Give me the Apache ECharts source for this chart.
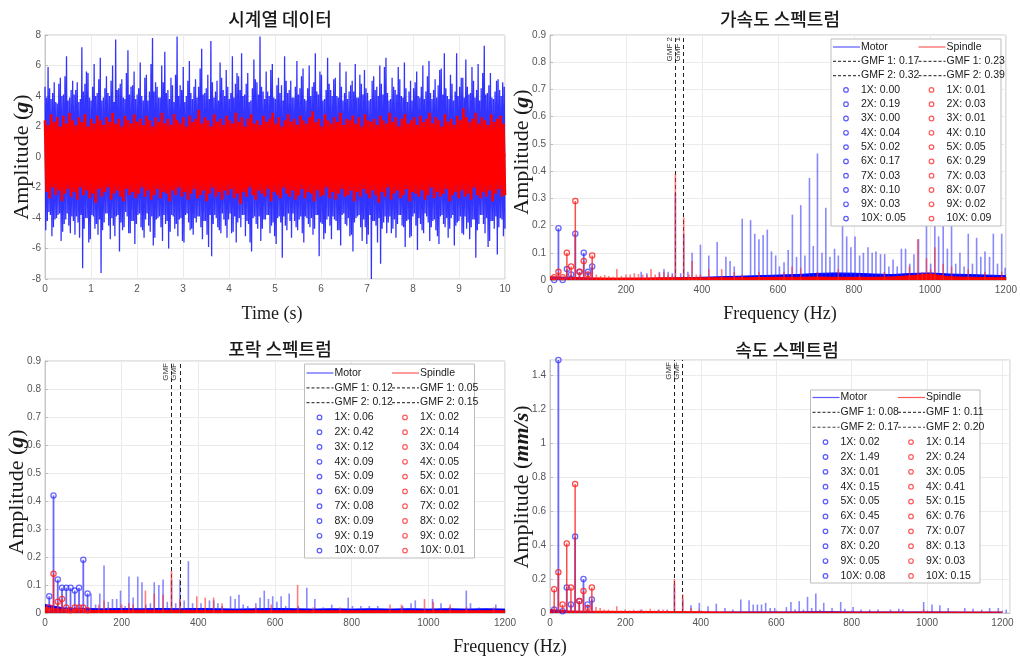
<!DOCTYPE html>
<html>
<head>
<meta charset="utf-8">
<script src="https://cdn.jsdelivr.net/npm/echarts/dist/echarts.min.js"></script>
<style>
  html, body { margin: 0; padding: 0; background: #ffffff; }
  #chart { width: 1020px; height: 661px; }
</style>
</head>
<body>
<div id="chart"></div>
<script>
// ---------------- time series (g) ----------------
// Each block of four samples is: motorHi[i], motorLo[i], motorHiB[i], motorLoB[i]
const TIME_END = 10;
const motorHi = [
  4.6, 5.9, 3.8, 4.9, 3.5, 5.2, 4.1, 6.6, 3.9, 5.0,
  4.4, 3.6, 7.2, 4.8, 5.5, 3.7, 6.1, 4.2, 6.5, 3.9,
  5.3, 4.0, 6.0, 7.7, 4.5, 5.1, 3.8, 7.0, 4.6, 5.6,
  4.1, 6.2, 3.7, 5.4, 4.3, 7.8, 4.9, 3.9, 6.0, 6.9,
  4.4, 5.2, 3.6, 7.9, 4.7, 5.9, 4.0, 6.3, 3.8, 5.1,
  4.6, 7.1, 4.2, 5.4, 7.6, 3.9, 5.0, 6.2, 4.4, 5.7,
  3.8, 6.6, 4.8, 5.3, 6.8, 4.1, 5.5, 3.7, 6.4, 4.9,
  7.9, 4.3, 5.6, 4.0, 6.1, 3.8, 5.2, 4.7, 6.6, 4.2,
  5.0, 3.9, 6.3, 4.5, 5.8, 3.7, 6.0, 4.6, 6.8, 4.1,
  5.4, 3.8, 6.5, 4.4, 5.1, 4.0, 6.2, 3.7, 5.6, 4.3,
  5.0, 6.1, 3.9, 4.8, 5.7, 4.2, 3.8, 5.3, 4.6, 6.0,
  4.1, 6.5, 3.7, 5.2, 4.4, 5.9, 4.0, 6.2, 3.6, 5.0,
  4.5, 5.6, 3.9, 6.0, 4.3, 6.3, 3.8, 5.1, 4.7, 5.8,
  6.8, 4.0, 5.4, 3.7, 6.8, 4.6, 5.2, 6.4, 4.1, 5.9,
  3.9, 6.1, 4.5, 7.3, 4.2, 5.5, 3.8, 5.0, 4.4, 4.9
];
const motorLo = [
  -4.8, -3.6, -5.2, -4.1, -3.8, -5.5, -4.4, -3.7, -5.0, -4.2,
  -3.9, -5.3, -7.3, -4.0, -5.6, -3.8, -4.7, -5.1, -7.6, -4.3,
  -3.7, -5.4, -4.5, -3.9, -6.2, -4.8, -3.6, -5.0, -4.2, -5.7,
  -3.8, -4.6, -5.3, -3.7, -4.9, -5.8, -4.1, -3.9, -5.5, -4.4,
  -6.0, -3.8, -4.7, -5.2, -4.0, -5.6, -3.7, -4.8, -5.1, -4.3,
  -3.9, -5.4, -4.2, -5.9, -6.5, -3.8, -4.6, -5.0, -4.1, -5.3,
  -3.7, -4.9, -5.6, -4.0, -3.8, -5.2, -4.4, -6.2, -3.9, -4.7,
  -5.5, -4.1, -3.8, -5.0, -4.3, -5.7, -3.9, -6.6, -4.5, -3.7,
  -5.3, -4.2, -4.8, -3.9, -5.6, -4.0, -4.6, -5.1, -3.8, -6.5,
  -4.4, -5.0, -3.9, -5.4, -4.1, -4.8, -5.8, -3.7, -4.5, -5.2,
  -6.2, -4.0, -3.8, -5.5, -4.6, -5.1, -8.0, -4.2, -5.6, -7.0,
  -4.3, -5.0, -3.9, -4.7, -5.3, -3.8, -4.5, -5.9, -4.1, -5.2,
  -3.7, -6.1, -4.4, -5.0, -3.9, -5.5, -4.2, -4.8, -5.7, -3.8,
  -4.6, -5.3, -4.0, -5.8, -4.3, -3.9, -5.1, -4.7, -5.4, -4.1,
  -6.6, -4.4, -3.8, -5.0, -5.9, -4.2, -4.7, -6.4, -4.0, -5.2
];
const motorHiB = [
  3.9, 4.5, 4.2, 3.6, 4.8, 4.0, 5.3, 3.7, 4.4, 4.1,
  4.9, 3.8, 4.3, 5.6, 3.9, 4.6, 4.0, 5.1, 3.7, 4.5,
  4.2, 5.0, 3.6, 4.4, 4.8, 3.9, 5.5, 4.1, 4.7, 3.8,
  4.5, 4.0, 5.2, 3.7, 6.1, 4.3, 4.6, 3.9, 4.9, 4.2,
  3.8, 4.7, 5.4, 4.0, 4.4, 3.6, 5.0, 4.2, 4.6, 3.9,
  5.8, 4.1, 4.5, 3.8, 4.9, 4.3, 3.7, 5.2, 4.0, 4.6,
  4.2, 3.9, 5.5, 4.4, 4.0, 4.8, 3.6, 4.5, 5.1, 4.1,
  4.6, 3.8, 4.3, 5.7, 3.9, 4.7, 4.2, 3.7, 5.0, 4.4,
  3.9, 4.6, 4.1, 5.3, 3.8, 4.5, 4.0, 4.9, 4.3, 5.6,
  3.7, 4.4, 4.8, 4.0, 5.2, 3.9, 4.6, 4.2, 3.8, 4.7,
  4.3, 3.9, 5.4, 4.1, 4.5, 3.7, 5.0, 4.4, 4.0, 4.8,
  5.9, 4.2, 3.8, 4.6, 4.1, 5.1, 3.9, 4.5, 4.3, 3.7,
  4.9, 4.0, 4.6, 3.8, 5.3, 4.2, 4.4, 3.9, 5.7, 4.1,
  4.5, 3.8, 4.8, 4.3, 4.0, 5.2, 3.9, 4.6, 4.2, 5.0,
  4.4, 3.7, 5.5, 4.1, 4.7, 3.9, 4.3, 5.1, 4.0, 4.6
];
const motorLoB = [
  -4.2, -3.8, -4.6, -4.0, -3.7, -4.9, -4.1, -4.5, -3.9, -5.1,
  -4.3, -3.8, -4.7, -4.0, -5.4, -3.9, -4.4, -4.1, -4.8, -3.7,
  -4.5, -4.0, -5.2, -3.8, -4.3, -4.6, -3.9, -5.0, -4.2, -4.4,
  -3.7, -4.8, -4.1, -4.5, -3.9, -5.3, -4.0, -4.6, -3.8, -4.2,
  -4.9, -3.9, -4.4, -4.1, -5.5, -3.8, -4.3, -4.7, -4.0, -3.9,
  -4.6, -4.2, -5.1, -3.8, -4.4, -4.0, -4.8, -3.7, -4.5, -4.1,
  -5.0, -3.9, -4.3, -4.6, -3.8, -4.2, -5.6, -4.0, -4.4, -3.9,
  -4.7, -4.1, -3.8, -4.5, -5.2, -4.0, -4.3, -3.9, -4.8, -4.2,
  -3.7, -4.6, -4.1, -5.0, -3.9, -4.4, -4.0, -4.7, -3.8, -4.3,
  -5.4, -4.1, -4.5, -3.9, -4.2, -4.8, -3.8, -4.4, -4.0, -5.1,
  -4.3, -3.9, -4.6, -4.1, -5.7, -3.8, -4.2, -4.5, -4.0, -4.7,
  -3.9, -4.3, -5.0, -4.1, -4.4, -3.8, -4.6, -4.2, -5.3, -3.9,
  -4.5, -4.0, -4.8, -3.7, -4.3, -4.6, -4.1, -5.2, -3.9, -4.4,
  -4.0, -4.7, -3.8, -4.5, -4.2, -5.0, -3.9, -4.3, -4.6, -4.1,
  -4.8, -3.8, -4.4, -4.0, -5.5, -4.2, -3.9, -4.6, -4.1, -4.7
];
const spindleHi = [
  2.4, 2.1, 2.8, 2.3, 2.6, 2.0, 2.7, 2.2, 2.9, 2.4,
  2.1, 2.6, 2.3, 2.8, 2.0, 2.5, 2.2, 2.7, 2.4, 2.1,
  2.6, 2.3, 2.9, 2.2, 2.5, 2.0, 2.7, 2.4, 2.2, 2.8,
  2.3, 2.5, 2.1, 2.7, 2.4, 2.0, 2.6, 2.3, 2.9, 2.2,
  2.5, 2.1, 2.8, 2.4, 2.2, 2.6, 2.0, 2.7, 2.3, 2.5,
  3.1, 2.2, 2.6, 2.4, 2.0, 2.8, 2.3, 2.5, 2.1, 2.7,
  2.4, 2.2, 2.9, 2.3, 2.6, 2.0, 2.5, 2.8, 2.2, 2.4,
  2.1, 2.7, 2.3, 2.5, 2.9, 2.2, 2.6, 2.0, 2.4, 2.8,
  2.3, 2.5, 2.1, 2.7, 2.4, 2.2, 2.6, 3.0, 2.3, 2.5,
  2.0, 2.8, 2.4, 2.2, 2.6, 2.3, 2.9, 2.1, 2.5, 2.4,
  2.7, 2.2, 2.6, 2.0, 2.8, 2.4, 2.3, 2.5, 2.1, 2.7,
  2.4, 2.2, 2.9, 2.3, 2.6, 2.0, 2.5, 2.8, 2.2, 2.4,
  2.6, 2.1, 2.7, 2.3, 2.5, 2.9, 2.2, 2.6, 2.4, 2.0,
  2.8, 2.3, 2.5, 2.1, 2.7, 2.4, 3.2, 2.6, 2.3, 2.5,
  2.9, 2.2, 2.6, 2.4, 2.1, 2.8, 2.3, 2.5, 2.7, 2.2
];
const spindleLo = [
  -2.3, -2.7, -2.0, -2.5, -2.2, -2.9, -2.4, -2.1, -2.6, -2.3,
  -2.8, -2.0, -2.5, -2.2, -2.7, -2.4, -3.0, -2.1, -2.6, -2.3,
  -2.0, -2.8, -2.4, -2.2, -2.6, -2.9, -2.1, -2.5, -2.3, -2.7,
  -2.4, -2.0, -2.6, -2.2, -2.8, -2.5, -2.1, -2.7, -2.3, -2.4,
  -2.9, -2.2, -2.5, -2.0, -2.6, -2.3, -2.8, -2.4, -2.1, -2.7,
  -2.5, -2.2, -2.9, -2.4, -2.0, -2.6, -2.3, -2.8, -2.2, -2.5,
  -2.1, -2.7, -2.4, -3.1, -2.3, -2.6, -2.0, -2.5, -2.8, -2.2,
  -2.4, -2.6, -2.1, -2.9, -2.3, -2.5, -2.7, -2.0, -2.4, -2.6,
  -2.2, -2.8, -2.5, -2.1, -2.7, -2.3, -2.4, -2.9, -2.2, -2.6,
  -2.5, -2.0, -2.7, -2.3, -2.8, -2.4, -2.1, -2.6, -2.5, -2.2,
  -2.9, -2.3, -2.6, -2.1, -2.4, -2.7, -2.2, -2.5, -3.0, -2.3,
  -2.6, -2.0, -2.8, -2.4, -2.2, -2.7, -2.5, -2.1, -2.9, -2.3,
  -2.4, -2.6, -2.2, -2.8, -2.5, -2.0, -2.7, -2.3, -2.6, -2.4,
  -2.1, -2.9, -2.5, -2.3, -2.7, -2.2, -2.6, -2.4, -2.8, -2.0,
  -2.5, -2.7, -2.3, -2.6, -2.2, -2.9, -2.4, -2.1, -2.6, -2.5
];

// ---------------- spectra ----------------
const SHAFT_HZ = 11.1;              // 1X shaft frequency
const GMF_HZ = [352, 330];          // GMF 1, GMF 2
const FLOOR_STEP_HZ = 50;
const HARMONIC_NAMES = ['1X', '2X', '3X', '4X', '5X', '6X', '7X', '8X', '9X', '10X'];

// acceleration spectrum (g)
const accMotorHarm = [0.00, 0.19, 0.00, 0.04, 0.02, 0.17, 0.03, 0.10, 0.03, 0.05];
const accSpindleHarm = [0.01, 0.03, 0.01, 0.10, 0.05, 0.29, 0.03, 0.07, 0.02, 0.09];
const accMotorGmf = [0.17, 0.32];
const accSpindleGmf = [0.23, 0.39];
const accMotorPeaks = [[240,0.03],[255,0.025],[288,0.03],[300,0.04],[311,0.03],[322,0.025],[344,0.025],[363,0.03],
  [374,0.10],[396,0.13],[418,0.09],[440,0.14],[463,0.085],[474,0.07],[485,0.05],[506,0.225],[528,0.22],[539,0.17],
  [550,0.15],[561,0.165],[572,0.185],[583,0.105],[594,0.09],[604,0.05],[616,0.065],[627,0.11],[638,0.24],[649,0.085],
  [660,0.275],[671,0.09],[683,0.375],[693,0.125],[704,0.465],[716,0.10],[726,0.265],[737,0.085],[749,0.115],[759,0.09],
  [770,0.215],[781,0.16],[792,0.12],[803,0.16],[815,0.09],[825,0.10],[837,0.12],[848,0.10],[858,0.105],[870,0.095],
  [881,0.095],[892,0.05],[903,0.075],[914,0.05],[925,0.115],[936,0.115],[947,0.06],[958,0.095],[970,0.15],[991,0.25],
  [1002,0.06],[1013,0.22],[1023,0.16],[1035,0.23],[1046,0.115],[1057,0.21],[1068,0.06],[1079,0.10],[1090,0.05],
  [1101,0.17],[1112,0.06],[1123,0.155],[1134,0.085],[1145,0.105],[1157,0.085],[1167,0.17],[1178,0.06],[1189,0.17],[1198,0.045]];
const accSpindlePeaks = [[122,0.02],[133,0.015],[144,0.018],[155,0.015],[166,0.012],[176,0.04],[188,0.015],[200,0.02],
  [211,0.02],[222,0.025],[233,0.022],[244,0.02],[255,0.018],[266,0.04],[277,0.02],[288,0.025],[300,0.03],[311,0.02],
  [322,0.018],[366,0.02],[374,0.07],[385,0.02],[396,0.02],[418,0.04],[452,0.04],[485,0.03],[506,0.02],[550,0.03],
  [616,0.03],[637,0.05],[660,0.045],[704,0.03],[759,0.04],[815,0.02],[880,0.03],[946,0.05],[968,0.15],[980,0.03],
  [991,0.08],[1002,0.04],[1013,0.12],[1035,0.06],[1057,0.05],[1101,0.04],[1145,0.03],[1189,0.03]];
const accMotorFloor = [0.010,0.006,0.005,0.005,0.006,0.006,0.007,0.008,0.010,0.012,0.014,0.016,0.018,
  0.020,0.024,0.026,0.025,0.022,0.020,0.024,0.026,0.022,0.020,0.018,0.016];
const accSpindleFloor = [0.012,0.010,0.008,0.007,0.007,0.007,0.008,0.008,0.008,0.008,0.008,0.009,0.010,
  0.010,0.011,0.010,0.010,0.010,0.011,0.016,0.022,0.012,0.010,0.009,0.008];

// envelope spectrum (g)
const envMotorHarm = [0.06, 0.42, 0.12, 0.09, 0.09, 0.09, 0.08, 0.09, 0.19, 0.07];
const envSpindleHarm = [0.02, 0.14, 0.04, 0.05, 0.02, 0.01, 0.02, 0.02, 0.02, 0.01];
const envMotorGmf = [0.12, 0.12];
const envSpindleGmf = [0.05, 0.15];
const envMotorPeaks = [[120,0.07],[132,0.03],[143,0.07],[154,0.17],[165,0.04],[176,0.05],[187,0.05],[197,0.08],
  [209,0.025],[219,0.13],[230,0.055],[242,0.13],[253,0.11],[263,0.03],[275,0.035],[285,0.11],[297,0.10],[308,0.12],
  [319,0.04],[341,0.035],[363,0.045],[374,0.185],[385,0.035],[407,0.035],[429,0.045],[440,0.045],[451,0.035],
  [462,0.025],[484,0.06],[496,0.05],[506,0.065],[517,0.03],[529,0.025],[550,0.035],[561,0.055],[572,0.08],[583,0.05],
  [594,0.06],[605,0.04],[616,0.06],[628,0.025],[637,0.07],[661,0.025],[683,0.09],[704,0.05],[726,0.02],[748,0.03],
  [791,0.055],[802,0.025],[824,0.025],[846,0.025],[868,0.025],[933,0.025],[955,0.035],[966,0.045],[1011,0.05],
  [1033,0.035],[1055,0.02],[1099,0.08],[1110,0.035],[1132,0.02],[1176,0.03]];
const envSpindlePeaks = [[140,0.03],[154,0.045],[165,0.02],[200,0.03],[219,0.035],[230,0.03],[262,0.08],[285,0.07],
  [308,0.065],[396,0.06],[418,0.055],[440,0.055],[462,0.035],[550,0.02],[590,0.03],[659,0.10],[700,0.02],[770,0.02],
  [900,0.03],[930,0.03],[990,0.05],[1013,0.04],[1057,0.03],[1100,0.02],[1170,0.02]];
const envMotorFloor = [0.030,0.018,0.016,0.015,0.016,0.015,0.016,0.015,0.016,0.015,0.014,0.015,0.016,
  0.015,0.014,0.015,0.014,0.015,0.014,0.015,0.014,0.015,0.014,0.015,0.014];
const envSpindleFloor = [0.020,0.012,0.010,0.009,0.009,0.010,0.009,0.010,0.009,0.008,0.008,0.008,0.008,
  0.008,0.008,0.008,0.008,0.008,0.008,0.008,0.008,0.008,0.008,0.008,0.008];

// velocity spectrum (mm/s)
const velMotorHarm = [0.02, 1.49, 0.01, 0.15, 0.05, 0.45, 0.07, 0.20, 0.05, 0.08];
const velSpindleHarm = [0.14, 0.24, 0.05, 0.41, 0.15, 0.76, 0.07, 0.13, 0.03, 0.15];
const velMotorGmf = [0.08, 0.17];
const velSpindleGmf = [0.11, 0.20];
const velMotorPeaks = [[240,0.02],[288,0.02],[311,0.02],[374,0.045],[396,0.06],[419,0.04],[441,0.055],[464,0.03],
  [485,0.02],[506,0.08],[528,0.075],[539,0.05],[550,0.05],[561,0.05],[572,0.06],[584,0.03],[596,0.03],[627,0.035],
  [639,0.065],[650,0.02],[661,0.07],[672,0.02],[683,0.095],[694,0.03],[705,0.115],[716,0.02],[726,0.06],[748,0.03],
  [771,0.065],[782,0.025],[804,0.035],[825,0.02],[848,0.02],[870,0.02],[903,0.02],[925,0.025],[936,0.02],[991,0.065],
  [1013,0.05],[1034,0.045],[1056,0.03],[1100,0.03],[1122,0.025],[1145,0.02],[1166,0.03],[1189,0.03],[1210,0.02]];
const velSpindlePeaks = [[122,0.035],[133,0.03],[144,0.02],[155,0.02],[166,0.015],[177,0.04],[188,0.015],[199,0.02],
  [211,0.015],[222,0.02],[233,0.015],[244,0.02],[255,0.015],[266,0.025],[277,0.015],[288,0.02],[300,0.02],[311,0.015],
  [374,0.03],[396,0.02],[991,0.02]];
const velMotorFloor = [0.006,0.004,0.004,0.004,0.004,0.004,0.004,0.004,0.005,0.005,0.006,0.006,0.006,
  0.006,0.007,0.007,0.006,0.006,0.006,0.006,0.006,0.006,0.005,0.005,0.005];
const velSpindleFloor = [0.020,0.012,0.010,0.010,0.009,0.009,0.008,0.008,0.007,0.006,0.005,0.005,0.005,
  0.005,0.005,0.005,0.005,0.005,0.005,0.005,0.005,0.005,0.005,0.005,0.005];

// ---------------- styling ----------------
const BLUE = '#0000ff';
const RED = '#ff0000';
const LABEL_FONT = 'Liberation Sans, Arial, sans-serif';
const SERIF = 'Liberation Serif, Times New Roman, serif';
const CJK = 'Noto Sans CJK KR, sans-serif';

// grids: time series, acceleration, envelope, velocity
const GRIDS = [
  { left: 45, top: 35, width: 460, height: 244 },
  { left: 550, top: 35, width: 460, height: 245 },
  { left: 45, top: 361, width: 460, height: 252 },
  { left: 550, top: 360, width: 460, height: 253 }
];

// lay out sample blocks evenly over the record length
function samples(arrays) {
  const n = arrays[0].length * arrays.length;
  const dt = TIME_END / (n - 1);
  const out = [];
  for (let i = 0; i < arrays[0].length; i++) {
    arrays.forEach((a, k) => out.push([(i * arrays.length + k) * dt, a[i]]));
  }
  return out;
}
function floorData(values) {
  return values.map((v, i) => [i * FLOOR_STEP_HZ, v]);
}
function harmonicData(values) {
  return values.map((v, i) => [(i + 1) * SHAFT_HZ, v]);
}
function withGmf(peaks, gmf) {
  return peaks.concat(gmf.map((v, i) => [GMF_HZ[i], v]));
}

function stemRenderer(color, width) {
  return function (params, api) {
    const x = api.value(0), v = api.value(1);
    const p0 = api.coord([x, 0]), p1 = api.coord([x, v]);
    return { type: 'line', shape: { x1: p0[0], y1: p0[1], x2: p1[0], y2: p1[1] },
      style: { stroke: color, lineWidth: width } };
  };
}
function harmonicRenderer(color, width) {
  return function (params, api) {
    const x = api.value(0), v = api.value(1);
    const p0 = api.coord([x, 0]), p1 = api.coord([x, v]);
    return { type: 'group', children: [
      { type: 'line', shape: { x1: p0[0], y1: p0[1], x2: p1[0], y2: p1[1] },
        style: { stroke: color, lineWidth: width } },
      { type: 'circle', shape: { cx: p1[0], cy: p1[1], r: 2.6 },
        style: { fill: 'rgba(0,0,0,0)', stroke: color, lineWidth: 1.3 } }
    ] };
  };
}

function spectrumSeries(g, s, gmfLabels) {
  const base = { xAxisIndex: g, yAxisIndex: g, animation: false, silent: true };
  return [
    Object.assign({}, base, {
      type: 'line', data: floorData(s.motorFloor), symbol: 'none',
      lineStyle: { color: BLUE, width: 1 }, areaStyle: { color: BLUE, opacity: 1 }, z: 2,
      markLine: {
        symbol: ['none', 'none'], silent: true, animation: false,
        lineStyle: { type: [4, 3], color: '#222', width: 1 },
        label: { show: true, position: 'insideEndTop', fontSize: 8, color: '#333',
          fontFamily: LABEL_FONT, distance: 2 },
        data: GMF_HZ.map((f, i) => ({ xAxis: f, label: { formatter: gmfLabels[i] } }))
      }
    }),
    Object.assign({}, base, {
      type: 'custom', data: withGmf(s.motorPeaks, s.motorGmf), encode: { x: 0, y: 1 },
      renderItem: stemRenderer('rgba(40,40,255,0.55)', 1.6), z: 3
    }),
    Object.assign({}, base, {
      type: 'line', data: floorData(s.spindleFloor), symbol: 'none',
      lineStyle: { color: RED, width: 1 }, areaStyle: { color: RED, opacity: 1 }, z: 4
    }),
    Object.assign({}, base, {
      type: 'custom', data: withGmf(s.spindlePeaks, s.spindleGmf), encode: { x: 0, y: 1 },
      renderItem: stemRenderer('rgba(255,40,40,0.6)', 1.6), z: 5
    }),
    Object.assign({}, base, {
      type: 'custom', data: harmonicData(s.motorHarm), encode: { x: 0, y: 1 }, clip: false,
      renderItem: harmonicRenderer('rgba(40,40,255,0.7)', 1.8), z: 6
    }),
    Object.assign({}, base, {
      type: 'custom', data: harmonicData(s.spindleHarm), encode: { x: 0, y: 1 }, clip: false,
      renderItem: harmonicRenderer('rgba(255,30,30,0.8)', 1.5), z: 7
    })
  ];
}

function legendBox(L, T, W, H, firstRow, rowH, s) {
  const Z = 100;
  const els = [{ type: 'rect', z: Z, shape: { x: L, y: T, width: W, height: H },
    style: { fill: '#ffffff', stroke: '#bdbdbd', lineWidth: 1 } }];
  const colOff = 85.5;
  const txt = (x, y, t) => ({ type: 'text', z: Z + 1, style: { x: x, y: y, text: t, fill: '#1a1a1a',
    fontSize: 10.5, fontFamily: LABEL_FONT, verticalAlign: 'middle', align: 'left' } });
  const seg = (x, y, color, dash) => ({ type: 'line', z: Z + 1, shape: { x1: x + 2, y1: y, x2: x + 29, y2: y },
    style: { stroke: color, lineWidth: 1.2, lineDash: dash || null } });
  const ring = (x, y, color) => ({ type: 'circle', z: Z + 1, shape: { cx: x + 15, cy: y, r: 2.3 },
    style: { fill: 'rgba(0,0,0,0)', stroke: color, lineWidth: 1.2 } });
  const cols = [
    { x: L, name: 'Motor', color: 'rgba(60,60,255,0.85)', gmf: s.motorGmf, harm: s.motorHarm },
    { x: L + colOff, name: 'Spindle', color: 'rgba(255,60,60,0.85)', gmf: s.spindleGmf, harm: s.spindleHarm }
  ];
  cols.forEach(c => {
    let y = T + firstRow;
    els.push(seg(c.x, y, c.color), txt(c.x + 30, y, c.name));
    c.gmf.forEach((v, i) => {
      y = T + firstRow + rowH * (i + 1);
      els.push(seg(c.x, y, '#444', [3, 2]), txt(c.x + 30, y, 'GMF ' + (i + 1) + ': ' + v.toFixed(2)));
    });
    c.harm.forEach((v, i) => {
      y = T + firstRow + rowH * (i + 3);
      els.push(ring(c.x, y, c.color), txt(c.x + 30, y, HARMONIC_NAMES[i] + ': ' + v.toFixed(2)));
    });
  });
  return els;
}

const ACC = { motorHarm: accMotorHarm, spindleHarm: accSpindleHarm, motorGmf: accMotorGmf, spindleGmf: accSpindleGmf,
  motorPeaks: accMotorPeaks, spindlePeaks: accSpindlePeaks, motorFloor: accMotorFloor, spindleFloor: accSpindleFloor };
const ENV = { motorHarm: envMotorHarm, spindleHarm: envSpindleHarm, motorGmf: envMotorGmf, spindleGmf: envSpindleGmf,
  motorPeaks: envMotorPeaks, spindlePeaks: envSpindlePeaks, motorFloor: envMotorFloor, spindleFloor: envSpindleFloor };
const VEL = { motorHarm: velMotorHarm, spindleHarm: velSpindleHarm, motorGmf: velMotorGmf, spindleGmf: velSpindleGmf,
  motorPeaks: velMotorPeaks, spindlePeaks: velSpindlePeaks, motorFloor: velMotorFloor, spindleFloor: velSpindleFloor };

const plainNumber = v => String(+(+v).toFixed(3));

function xAxis(g, min, max, interval) {
  return {
    type: 'value', gridIndex: g, min: min, max: max, interval: interval,
    axisLine: { show: true, lineStyle: { color: '#c8c8c8' } },
    axisTick: { show: true, inside: true, length: 3, lineStyle: { color: '#bbb' } },
    axisLabel: { color: '#555', fontSize: 10, fontFamily: LABEL_FONT, margin: 5,
      showMaxLabel: max % interval === 0, formatter: plainNumber },
    splitLine: { show: true, lineStyle: { color: '#ebebeb' } }
  };
}
function yAxis(g, min, max, interval) {
  const aligned = Math.abs(Math.round(max / interval) * interval - max) < 1e-9;
  return {
    type: 'value', gridIndex: g, min: min, max: max, interval: interval,
    axisLine: { show: true, lineStyle: { color: '#c8c8c8' } },
    axisTick: { show: true, inside: true, length: 3, lineStyle: { color: '#bbb' } },
    axisLabel: { color: '#555', fontSize: 10, fontFamily: LABEL_FONT, margin: 4,
      showMaxLabel: aligned, formatter: plainNumber },
    splitLine: { show: true, lineStyle: { color: '#ebebeb' } }
  };
}

function title(x, y, t) {
  return { type: 'text', z: 120, style: { x: x, y: y, text: t, fill: '#1a1a1a', fontSize: 18,
    fontFamily: CJK, fontWeight: 500, align: 'center', verticalAlign: 'middle' } };
}
function xName(x, y, t) {
  return { type: 'text', z: 120, style: { x: x, y: y, text: t, fill: '#1a1a1a', fontSize: 18,
    fontFamily: SERIF, align: 'center', verticalAlign: 'middle' } };
}
function yName(x, y, unit) {
  return { type: 'text', z: 120, x: x, y: y, rotation: Math.PI / 2,
    style: { text: '{a|Amplitude (}{b|' + unit + '}{a|)}', align: 'center', verticalAlign: 'middle',
      rich: {
        a: { fontSize: 22, fontFamily: SERIF, fill: '#1a1a1a' },
        b: { fontSize: 22, fontFamily: SERIF, fontStyle: 'italic', fontWeight: 'bold', fill: '#1a1a1a' }
      } } };
}

const option = {
  backgroundColor: '#ffffff',
  animation: false,
  grid: GRIDS.map(g => Object.assign({ show: true, borderColor: '#c8c8c8', borderWidth: 1, backgroundColor: '#fff' }, g)),
  xAxis: [xAxis(0, 0, 10, 1), xAxis(1, 0, 1200, 200), xAxis(2, 0, 1200, 200), xAxis(3, 0, 1220, 200)],
  yAxis: [yAxis(0, -8, 8, 2), yAxis(1, 0, 0.9, 0.1), yAxis(2, 0, 0.9, 0.1), yAxis(3, 0, 1.49, 0.2)],
  series: [
    { type: 'line', xAxisIndex: 0, yAxisIndex: 0, data: samples([motorHi, motorLo, motorHiB, motorLoB]),
      symbol: 'none', silent: true, sampling: null, lineStyle: { color: 'rgba(0,0,255,0.8)', width: 1.3 }, z: 2 },
    { type: 'line', xAxisIndex: 0, yAxisIndex: 0, data: samples([spindleHi, spindleLo]), symbol: 'none', silent: true,
      lineStyle: { color: RED, width: 2.6 }, z: 3 }
  ]
    .concat(spectrumSeries(1, ACC, ['GMF 1', 'GMF 2']))
    .concat(spectrumSeries(2, ENV, ['GMF', 'GMF']))
    .concat(spectrumSeries(3, VEL, ['GMF', 'GMF'])),
  graphic: [
    title(280, 19, '시계열 데이터'),
    title(780, 19, '가속도 스펙트럼'),
    title(280, 349, '포락 스펙트럼'),
    title(787, 350, '속도 스펙트럼'),
    xName(272, 314, 'Time (s)'),
    xName(780, 314, 'Frequency (Hz)'),
    xName(510, 647, 'Frequency (Hz)'),
    yName(22, 157, 'g'),
    yName(522, 152, 'g'),
    yName(17, 492, 'g'),
    yName(522, 487, 'mm/s')
  ]
    .concat(legendBox(831, 39, 170, 187, 8, 14.3, ACC))
    .concat(legendBox(304.5, 364, 170, 194, 9, 14.8, ENV))
    .concat(legendBox(810.5, 390, 169.5, 193, 7.5, 14.87, VEL))
};

const chart = echarts.init(document.getElementById('chart'), null, { renderer: 'canvas' });
chart.setOption(option);
</script>
</body>
</html>
